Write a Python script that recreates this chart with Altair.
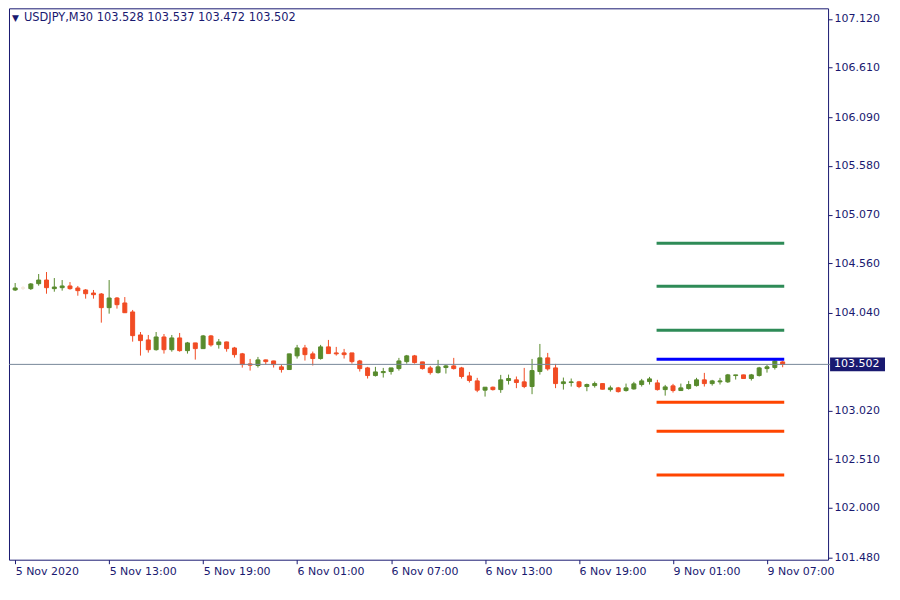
import altair as alt
import pandas as pd

symbol = "USDJPY,M30"

opens = [104.281, 104.302, 104.295, 104.347, 104.385, 104.295, 104.305, 104.323, 104.302, 104.281,
         104.249, 104.239, 104.096, 104.197, 104.145, 104.051, 103.810, 103.758, 103.656, 103.789,
         103.656, 103.779, 103.646, 103.727, 103.667, 103.800, 103.709, 103.737, 103.674, 103.612,
         103.507, 103.490, 103.549, 103.538, 103.476, 103.448, 103.591, 103.674, 103.612, 103.563,
         103.685, 103.622, 103.622, 103.622, 103.538, 103.465, 103.385, 103.416, 103.427, 103.458,
         103.531, 103.591, 103.528, 103.465, 103.416, 103.469, 103.486, 103.465, 103.381, 103.329,
         103.232, 103.263, 103.238, 103.333, 103.340, 103.319, 103.270, 103.427, 103.570, 103.465,
         103.301, 103.312, 103.319, 103.270, 103.280, 103.301, 103.238, 103.256, 103.228, 103.245,
         103.291, 103.322, 103.308, 103.238, 103.277, 103.228, 103.249, 103.280, 103.340, 103.301,
         103.319, 103.319, 103.385, 103.392, 103.354, 103.385, 103.458, 103.469, 103.528]
highs = [104.354, 104.323, 104.354, 104.448, 104.469, 104.406, 104.385, 104.364, 104.323, 104.291,
         104.281, 104.249, 104.385, 104.207, 104.207, 104.072, 103.841, 103.810, 103.841, 103.820,
         103.810, 103.831, 103.737, 103.727, 103.810, 103.810, 103.768, 103.740, 103.685, 103.622,
         103.559, 103.580, 103.552, 103.540, 103.500, 103.612, 103.706, 103.706, 103.636, 103.706,
         103.758, 103.685, 103.664, 103.622, 103.549, 103.476, 103.476, 103.465, 103.465, 103.570,
         103.601, 103.601, 103.528, 103.486, 103.549, 103.497, 103.570, 103.476, 103.423, 103.361,
         103.263, 103.270, 103.392, 103.395, 103.375, 103.465, 103.559, 103.716, 103.622, 103.507,
         103.364, 103.354, 103.329, 103.301, 103.322, 103.303, 103.280, 103.266, 103.301, 103.319,
         103.350, 103.371, 103.340, 103.287, 103.298, 103.301, 103.329, 103.361, 103.413, 103.340,
         103.361, 103.402, 103.392, 103.394, 103.402, 103.476, 103.497, 103.549, 103.537]
lows = [104.270, 104.281, 104.281, 104.326, 104.242, 104.263, 104.274, 104.284, 104.221, 104.190,
        104.190, 103.939, 104.033, 104.086, 104.040, 103.740, 103.594, 103.625, 103.646, 103.615,
        103.635, 103.635, 103.615, 103.552, 103.664, 103.688, 103.667, 103.635, 103.573, 103.468,
        103.437, 103.469, 103.500, 103.469, 103.416, 103.448, 103.563, 103.542, 103.490, 103.552,
        103.615, 103.594, 103.563, 103.510, 103.427, 103.354, 103.375, 103.364, 103.395, 103.437,
        103.510, 103.510, 103.448, 103.395, 103.406, 103.406, 103.448, 103.354, 103.312, 103.211,
        103.165, 103.228, 103.204, 103.291, 103.253, 103.253, 103.190, 103.395, 103.437, 103.253,
        103.238, 103.270, 103.253, 103.221, 103.259, 103.240, 103.217, 103.207, 103.217, 103.238,
        103.270, 103.291, 103.228, 103.175, 103.207, 103.225, 103.238, 103.270, 103.270, 103.280,
        103.291, 103.308, 103.343, 103.352, 103.333, 103.375, 103.416, 103.448, 103.472]
closes = [104.302, 104.302, 104.344, 104.385, 104.305, 104.312, 104.323, 104.295, 104.274, 104.242,
          104.232, 104.096, 104.197, 104.127, 104.043, 103.803, 103.751, 103.656, 103.789, 103.656,
          103.779, 103.646, 103.727, 103.667, 103.800, 103.706, 103.737, 103.667, 103.604, 103.500,
          103.494, 103.549, 103.531, 103.500, 103.448, 103.612, 103.674, 103.604, 103.563, 103.685,
          103.615, 103.612, 103.604, 103.531, 103.458, 103.385, 103.423, 103.427, 103.465, 103.538,
          103.591, 103.521, 103.458, 103.416, 103.476, 103.486, 103.458, 103.375, 103.333, 103.232,
          103.263, 103.238, 103.340, 103.354, 103.312, 103.270, 103.437, 103.570, 103.455, 103.301,
          103.319, 103.319, 103.270, 103.291, 103.301, 103.242, 103.256, 103.217, 103.256, 103.298,
          103.329, 103.350, 103.238, 103.266, 103.228, 103.256, 103.291, 103.340, 103.301, 103.329,
          103.329, 103.392, 103.392, 103.354, 103.392, 103.465, 103.476, 103.538, 103.502]
faded_bars = [1]

x_tick_bars = [0, 12, 24, 36, 48, 60, 72, 84, 96]
x_tick_labels = ["5 Nov 2020", "5 Nov 13:00", "5 Nov 19:00", "6 Nov 01:00", "6 Nov 07:00",
                 "6 Nov 13:00", "6 Nov 19:00", "9 Nov 01:00", "9 Nov 07:00"]
y_ticks = [107.12, 106.61, 106.09, 105.58, 105.07, 104.56, 104.04, 103.02, 102.51, 102.00, 101.48]

level_prices = [104.769, 104.319, 103.859, 103.556, 103.106, 102.803, 102.343]
level_kinds = ["r", "r", "r", "p", "s", "s", "s"]
level_start_bar = 81.9
level_end_bar = 98.2

NAVY = "#191970"
FONT = "DejaVu Sans"
W, H = 820, 552

n = len(opens)
df = pd.DataFrame({"bar": list(range(n)), "open": opens, "high": highs,
                   "low": lows, "close": closes})
df["dir"] = ["u" if c >= o else "d" for o, c in zip(opens, closes)]
df.loc[df["bar"].isin(faded_bars), "dir"] = "f"
df["body_lo"] = df[["open", "close"]].min(axis=1)
df["body_hi"] = df[["open", "close"]].max(axis=1)

levels = pd.DataFrame({"price": level_prices, "kind": level_kinds,
                       "start": level_start_bar, "end": level_end_bar})
last = df.iloc[-1]
cur = pd.DataFrame({"price": [last["close"]], "label": [f"{last['close']:.3f}"],
                    "title": [f"{symbol}  {last['open']:.3f} {last['high']:.3f} "
                              f"{last['low']:.3f} {last['close']:.3f}"]})

x_scale = alt.Scale(domain=[-0.15, 103.16], nice=False, zero=False)
y_scale = alt.Scale(domain=[101.457, 107.230], nice=False, zero=False)
col_scale = alt.Scale(domain=["u", "d", "f"], range=["#588B2D", "#F14C24", "#F4E6DA"])

label_arr = "[" + ",".join(f"'{s}'" for s in x_tick_labels) + "]"
x_axis = alt.Axis(values=x_tick_bars, labelExpr=f"{label_arr}[round(datum.value/12)]",
                  labelAlign="left", tickSize=4, labelPadding=2, domain=False, grid=False,
                  labelColor=NAVY, tickColor=NAVY, labelFont=FONT, labelFontSize=11,
                  title=None, labelOverlap=False, labelFlush=False)
y_axis = alt.Axis(values=y_ticks, format=".3f", orient="right", tickSize=4, labelPadding=2,
                  domain=False, grid=False, labelColor=NAVY, tickColor=NAVY, labelFont=FONT,
                  labelFontSize=11, title=None, labelOverlap=False, labelFlush=False)

wicks = alt.Chart(df).mark_rule(strokeWidth=1, clip=True).encode(
    x=alt.X("bar:Q", scale=x_scale, axis=x_axis),
    y=alt.Y("low:Q", scale=y_scale, axis=y_axis),
    y2="high:Q",
    color=alt.Color("dir:N", scale=col_scale, legend=None),
)
bodies = alt.Chart(df).mark_bar(size=4, strokeWidth=1, clip=True).encode(
    x=alt.X("bar:Q", scale=x_scale),
    y=alt.Y("body_lo:Q", scale=y_scale),
    y2="body_hi:Q",
    color=alt.Color("dir:N", scale=col_scale, legend=None),
    stroke=alt.Stroke("dir:N", scale=col_scale, legend=None),
)
candles = alt.layer(wicks, bodies)

level_lines = alt.Chart(levels).mark_rule(strokeWidth=3, strokeCap="butt").encode(
    x=alt.X("start:Q", scale=x_scale),
    x2="end:Q",
    y=alt.Y("price:Q", scale=y_scale),
    color=alt.Color("kind:N", scale=alt.Scale(domain=["r", "p", "s"],
                                              range=["#2E8B57", "#0000FF", "#FF4500"]),
                    legend=None),
)
price_line = alt.Chart(cur).mark_rule(color="#778899", strokeWidth=1).encode(
    x=alt.value(0), x2=alt.value(W + 2), y=alt.Y("price:Q", scale=y_scale))
price_box = alt.Chart(cur).mark_rule(color=NAVY, strokeWidth=14, strokeCap="butt").encode(
    x=alt.value(W + 2), x2=alt.value(W + 57), y=alt.Y("price:Q", scale=y_scale))
price_text = alt.Chart(cur).mark_text(align="left", baseline="middle", color="white",
                                      font=FONT, fontSize=11).encode(
    x=alt.value(W + 6), y=alt.Y("price:Q", scale=y_scale), text="label:N")
title_tri = alt.Chart(cur).mark_text(align="left", baseline="middle", color=NAVY,
                                     font=FONT, fontSize=9, text="\u25bc").encode(
    x=alt.value(3), y=alt.value(10))
title_text = alt.Chart(cur).mark_text(align="left", baseline="middle", color=NAVY,
                                      font=FONT, fontSize=11.4).encode(
    x=alt.value(15), y=alt.value(10), text="title:N")

chart = alt.layer(
    candles, level_lines, price_line, price_box, price_text, title_tri, title_text
).resolve_scale(color="independent", stroke="independent").properties(
    width=W, height=H, padding=0, background="white").configure_view(
    stroke=NAVY, strokeWidth=1, fill="white")

chart.save("out.html", embed_options={"renderer": "svg", "actions": False})
